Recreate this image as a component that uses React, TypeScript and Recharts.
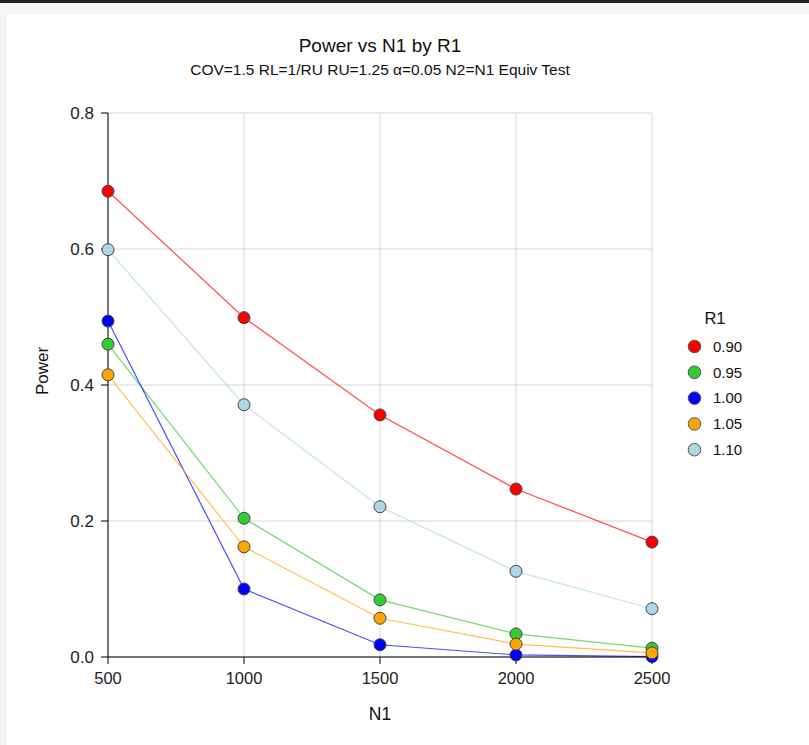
import React from 'react';
import { LineChart, Line, XAxis, YAxis, CartesianGrid } from 'recharts';

const n1Values = [500, 1000, 1500, 2000, 2500];
const r1Labels = ['0.90', '0.95', '1.00', '1.05', '1.10'];
const r1Colors = ['#ff0000', '#33cc33', '#0000ff', '#ffa500', '#add8e6'];
const power090 = [0.685, 0.499, 0.356, 0.247, 0.169];
const power095 = [0.46, 0.204, 0.084, 0.034, 0.013];
const power100 = [0.494, 0.1, 0.018, 0.003, 0.0005];
const power105 = [0.415, 0.162, 0.057, 0.019, 0.006];
const power110 = [0.599, 0.371, 0.221, 0.126, 0.071];
const yTicks = [0, 0.2, 0.4, 0.6, 0.8];

const seriesValues = [power090, power095, power100, power105, power110];
const data = n1Values.map((n, i) => {
  const row: Record<string, number> = { n1: n };
  r1Labels.forEach((lab, j) => {
    row['r' + lab] = seriesValues[j][i];
  });
  return row;
});

const FONT = '"Liberation Sans", Arial, sans-serif';

const XTick = (props: any) => {
  const { x, y, payload } = props;
  return (
    <text x={x} y={y + 18} textAnchor="middle" fontFamily={FONT} fontSize={16.5} fill="#222">
      {payload.value}
    </text>
  );
};

const YTick = (props: any) => {
  const { x, y, payload } = props;
  return (
    <text x={x - 5} y={y + 5.5} textAnchor="end" fontFamily={FONT} fontSize={17} fill="#222">
      {Number(payload.value).toFixed(1)}
    </text>
  );
};

export default function App() {
  return (
    <div style={{ position: 'relative', width: 809, height: 745, background: '#f4f4f4', overflow: 'hidden' }}>
      <style>{'body{margin:0}'}</style>
      <div style={{ position: 'absolute', left: 0, top: 0, width: 809, height: 3, background: '#222' }} />
      <div style={{ position: 'absolute', left: 7, top: 14, width: 802, height: 731, background: '#fff' }} />
      <div style={{ position: 'absolute', left: 0, top: 0 }}>
        <LineChart width={809} height={745} data={data} margin={{ top: 113, right: 157, bottom: 58, left: 28 }}>
          <CartesianGrid stroke="#d6d6d6" strokeWidth={1} />
          <XAxis
            dataKey="n1"
            type="number"
            domain={[500, 2500]}
            ticks={n1Values}
            tickSize={7}
            height={30}
            stroke="#000"
            tick={<XTick />}
            tickLine={{ stroke: '#000' }}
          />
          <YAxis
            type="number"
            domain={[0, 0.8]}
            ticks={yTicks}
            width={80}
            tickSize={7}
            stroke="#000"
            tick={<YTick />}
            tickLine={{ stroke: '#000' }}
          />
          {r1Labels.map((lab, i) => (
            <Line
              key={lab}
              dataKey={'r' + lab}
              stroke={r1Colors[i]}
              strokeOpacity={0.7}
              strokeWidth={1.2}
              isAnimationActive={false}
              dot={{ r: 6, fill: r1Colors[i], stroke: '#444', strokeWidth: 1, strokeOpacity: 1, fillOpacity: 1 }}
              activeDot={false}
            />
          ))}
        </LineChart>
      </div>
      <svg width={809} height={745} style={{ position: 'absolute', left: 0, top: 0, pointerEvents: 'none' }}>
        <g fontFamily={FONT} fill="#111">
          <text x={380} y={52} textAnchor="middle" fontSize={19}>Power vs N1 by R1</text>
          <text x={380} y={75} textAnchor="middle" fontSize={15.5}>COV=1.5 RL=1/RU RU=1.25 α=0.05 N2=N1 Equiv Test</text>
          <text x={380} y={720} textAnchor="middle" fontSize={17.5}>N1</text>
          <text x={48} y={371} textAnchor="middle" fontSize={17} transform="rotate(-90 48 371)">Power</text>
          <text x={715} y={324} textAnchor="middle" fontSize={16.5}>R1</text>
          {r1Labels.map((lab, i) => (
            <g key={lab}>
              <circle cx={694.5} cy={346.5 + i * 25.8} r={6.3} fill={r1Colors[i]} stroke="#555" strokeWidth={1} />
              <text x={713} y={346.5 + i * 25.8 + 5.3} fontSize={15}>{lab}</text>
            </g>
          ))}
        </g>
      </svg>
    </div>
  );
}
